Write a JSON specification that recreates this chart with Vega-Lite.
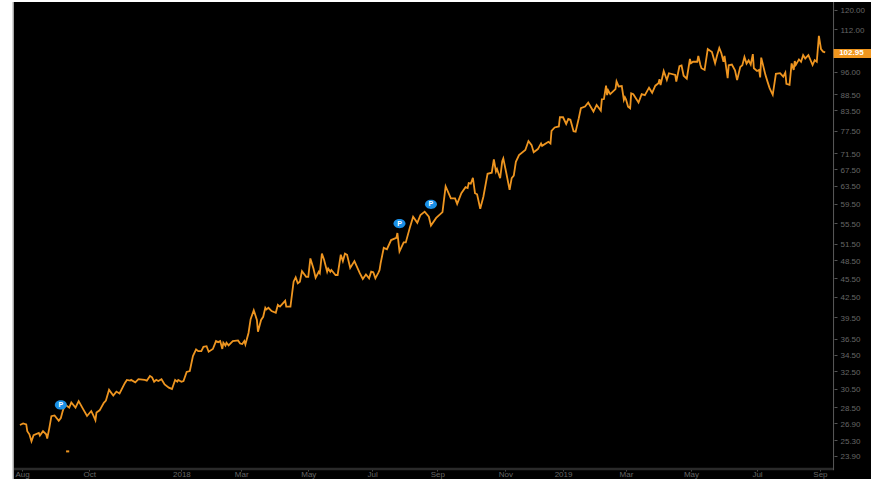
{"$schema":"https://vega.github.io/schema/vega-lite/v6.json","width":858,"height":477,"autosize":{"type":"none"},"padding":{"left":13,"top":2,"right":0,"bottom":0},"background":"white","view":{"fill":"#000000","stroke":null},
"data":{"values":[{"date":"2017-07-30","price":26.74},{"date":"2017-08-02","price":26.89},{"date":"2017-08-05","price":26.79},{"date":"2017-08-06","price":26.14},{"date":"2017-08-08","price":25.85},{"date":"2017-08-10","price":25.21},{"date":"2017-08-12","price":25.76},{"date":"2017-08-17","price":25.97},{"date":"2017-08-18","price":25.73},{"date":"2017-08-21","price":26.14},{"date":"2017-08-24","price":25.85},{"date":"2017-08-25","price":25.46},{"date":"2017-08-27","price":26.44},{"date":"2017-08-29","price":27.6},{"date":"2017-09-01","price":27.67},{"date":"2017-09-05","price":27.15},{"date":"2017-09-07","price":27.42},{"date":"2017-09-09","price":28.19},{"date":"2017-09-11","price":28.8},{"date":"2017-09-15","price":28.47},{"date":"2017-09-17","price":29.0},{"date":"2017-09-21","price":28.47},{"date":"2017-09-24","price":29.15},{"date":"2017-09-28","price":28.37},{"date":"2017-10-02","price":27.62},{"date":"2017-10-06","price":28.12},{"date":"2017-10-08","price":27.69},{"date":"2017-10-10","price":27.2},{"date":"2017-10-11","price":27.96},{"date":"2017-10-14","price":28.19},{"date":"2017-10-18","price":28.96},{"date":"2017-10-20","price":29.2},{"date":"2017-10-23","price":30.36},{"date":"2017-10-27","price":29.74},{"date":"2017-10-30","price":30.17},{"date":"2017-11-02","price":29.97},{"date":"2017-11-07","price":31.1},{"date":"2017-11-09","price":31.47},{"date":"2017-11-12","price":31.39},{"date":"2017-11-13","price":31.47},{"date":"2017-11-17","price":31.2},{"date":"2017-11-20","price":31.55},{"date":"2017-11-26","price":31.47},{"date":"2017-11-28","price":31.39},{"date":"2017-12-01","price":31.92},{"date":"2017-12-03","price":31.77},{"date":"2017-12-05","price":31.27},{"date":"2017-12-07","price":31.47},{"date":"2017-12-09","price":31.35},{"date":"2017-12-12","price":31.55},{"date":"2017-12-15","price":30.97},{"date":"2017-12-19","price":30.6},{"date":"2017-12-22","price":30.46},{"date":"2017-12-25","price":31.47},{"date":"2017-12-27","price":31.27},{"date":"2017-12-28","price":31.47},{"date":"2017-12-31","price":31.27},{"date":"2018-01-02","price":31.35},{"date":"2018-01-05","price":32.4},{"date":"2018-01-08","price":32.5},{"date":"2018-01-11","price":34.3},{"date":"2018-01-14","price":35.15},{"date":"2018-01-16","price":34.93},{"date":"2018-01-19","price":34.93},{"date":"2018-01-21","price":35.48},{"date":"2018-01-24","price":35.56},{"date":"2018-01-26","price":34.85},{"date":"2018-01-30","price":35.2},{"date":"2018-02-02","price":36.22},{"date":"2018-02-04","price":36.08},{"date":"2018-02-06","price":36.22},{"date":"2018-02-08","price":35.2},{"date":"2018-02-09","price":36.0},{"date":"2018-02-11","price":35.63},{"date":"2018-02-12","price":36.0},{"date":"2018-02-14","price":35.67},{"date":"2018-02-18","price":36.22},{"date":"2018-02-23","price":36.3},{"date":"2018-02-25","price":35.9},{"date":"2018-02-27","price":35.85},{"date":"2018-03-01","price":36.22},{"date":"2018-03-02","price":35.77},{"date":"2018-03-05","price":37.3},{"date":"2018-03-07","price":39.2},{"date":"2018-03-10","price":40.5},{"date":"2018-03-13","price":39.1},{"date":"2018-03-14","price":37.47},{"date":"2018-03-17","price":39.1},{"date":"2018-03-19","price":39.55},{"date":"2018-03-21","price":40.85},{"date":"2018-03-22","price":40.6},{"date":"2018-03-24","price":40.85},{"date":"2018-03-27","price":40.37},{"date":"2018-03-31","price":40.12},{"date":"2018-04-02","price":41.28},{"date":"2018-04-04","price":41.03},{"date":"2018-04-09","price":41.9},{"date":"2018-04-10","price":41.03},{"date":"2018-04-14","price":41.03},{"date":"2018-04-17","price":44.9},{"date":"2018-04-19","price":45.6},{"date":"2018-04-21","price":44.65},{"date":"2018-04-23","price":44.9},{"date":"2018-04-25","price":46.65},{"date":"2018-04-29","price":45.7},{"date":"2018-05-01","price":45.7},{"date":"2018-05-03","price":48.85},{"date":"2018-05-06","price":47.05},{"date":"2018-05-08","price":45.55},{"date":"2018-05-11","price":46.55},{"date":"2018-05-12","price":46.3},{"date":"2018-05-14","price":49.7},{"date":"2018-05-16","price":48.65},{"date":"2018-05-19","price":46.55},{"date":"2018-05-20","price":47.1},{"date":"2018-05-22","price":46.55},{"date":"2018-05-23","price":46.85},{"date":"2018-05-27","price":46.0},{"date":"2018-05-29","price":46.0},{"date":"2018-06-01","price":49.5},{"date":"2018-06-03","price":48.38},{"date":"2018-06-05","price":49.7},{"date":"2018-06-07","price":49.5},{"date":"2018-06-10","price":47.2},{"date":"2018-06-14","price":48.38},{"date":"2018-06-19","price":46.35},{"date":"2018-06-22","price":45.35},{"date":"2018-06-25","price":46.1},{"date":"2018-06-28","price":45.45},{"date":"2018-06-30","price":46.55},{"date":"2018-07-02","price":46.45},{"date":"2018-07-04","price":45.45},{"date":"2018-07-07","price":46.45},{"date":"2018-07-08","price":46.85},{"date":"2018-07-09","price":48.0},{"date":"2018-07-12","price":50.75},{"date":"2018-07-15","price":50.5},{"date":"2018-07-19","price":52.2},{"date":"2018-07-24","price":52.6},{"date":"2018-07-25","price":53.55},{"date":"2018-07-27","price":50.1},{"date":"2018-07-31","price":51.75},{"date":"2018-08-02","price":51.75},{"date":"2018-08-06","price":54.7},{"date":"2018-08-09","price":56.8},{"date":"2018-08-13","price":55.56},{"date":"2018-08-16","price":57.15},{"date":"2018-08-20","price":57.85},{"date":"2018-08-24","price":56.8},{"date":"2018-08-26","price":55.0},{"date":"2018-08-31","price":56.55},{"date":"2018-09-06","price":57.75},{"date":"2018-09-09","price":63.4},{"date":"2018-09-14","price":60.7},{"date":"2018-09-18","price":60.7},{"date":"2018-09-20","price":59.5},{"date":"2018-09-24","price":61.85},{"date":"2018-09-28","price":63.2},{"date":"2018-09-30","price":63.0},{"date":"2018-10-01","price":64.15},{"date":"2018-10-03","price":64.0},{"date":"2018-10-05","price":65.4},{"date":"2018-10-07","price":61.85},{"date":"2018-10-09","price":61.6},{"date":"2018-10-12","price":58.45},{"date":"2018-10-15","price":61.05},{"date":"2018-10-19","price":66.35},{"date":"2018-10-23","price":66.6},{"date":"2018-10-25","price":69.9},{"date":"2018-10-27","price":66.9},{"date":"2018-10-28","price":67.5},{"date":"2018-10-31","price":65.3},{"date":"2018-11-02","price":69.45},{"date":"2018-11-03","price":70.15},{"date":"2018-11-06","price":66.35},{"date":"2018-11-09","price":62.6},{"date":"2018-11-11","price":65.3},{"date":"2018-11-13","price":65.9},{"date":"2018-11-15","price":69.3},{"date":"2018-11-18","price":71.0},{"date":"2018-11-24","price":72.3},{"date":"2018-11-27","price":74.7},{"date":"2018-11-30","price":73.6},{"date":"2018-12-02","price":71.7},{"date":"2018-12-06","price":72.55},{"date":"2018-12-09","price":74.05},{"date":"2018-12-10","price":73.4},{"date":"2018-12-16","price":74.5},{"date":"2018-12-18","price":74.05},{"date":"2018-12-19","price":77.5},{"date":"2018-12-22","price":78.45},{"date":"2018-12-26","price":78.75},{"date":"2018-12-27","price":81.4},{"date":"2018-12-30","price":81.4},{"date":"2019-01-02","price":79.45},{"date":"2019-01-04","price":80.9},{"date":"2019-01-06","price":80.7},{"date":"2019-01-09","price":77.4},{"date":"2019-01-11","price":77.25},{"date":"2019-01-14","price":81.1},{"date":"2019-01-16","price":84.1},{"date":"2019-01-20","price":84.6},{"date":"2019-01-23","price":85.85},{"date":"2019-01-28","price":83.1},{"date":"2019-01-31","price":85.1},{"date":"2019-02-04","price":83.4},{"date":"2019-02-05","price":86.85},{"date":"2019-02-07","price":86.95},{"date":"2019-02-09","price":91.3},{"date":"2019-02-10","price":88.2},{"date":"2019-02-11","price":89.75},{"date":"2019-02-13","price":88.5},{"date":"2019-02-18","price":90.15},{"date":"2019-02-19","price":92.65},{"date":"2019-02-21","price":91.0},{"date":"2019-02-24","price":91.15},{"date":"2019-02-26","price":86.65},{"date":"2019-02-27","price":87.5},{"date":"2019-02-28","price":86.85},{"date":"2019-03-02","price":84.6},{"date":"2019-03-04","price":84.1},{"date":"2019-03-05","price":88.75},{"date":"2019-03-07","price":88.5},{"date":"2019-03-12","price":85.85},{"date":"2019-03-15","price":88.5},{"date":"2019-03-18","price":88.2},{"date":"2019-03-22","price":90.6},{"date":"2019-03-25","price":88.95},{"date":"2019-03-28","price":91.25},{"date":"2019-03-31","price":92.05},{"date":"2019-04-01","price":93.4},{"date":"2019-04-02","price":91.45},{"date":"2019-04-05","price":96.25},{"date":"2019-04-08","price":93.15},{"date":"2019-04-10","price":95.45},{"date":"2019-04-16","price":94.85},{"date":"2019-04-17","price":92.6},{"date":"2019-04-20","price":97.9},{"date":"2019-04-22","price":98.15},{"date":"2019-04-24","price":94.6},{"date":"2019-04-27","price":93.6},{"date":"2019-04-30","price":100.5},{"date":"2019-05-01","price":98.95},{"date":"2019-05-03","price":99.5},{"date":"2019-05-07","price":99.5},{"date":"2019-05-08","price":101.6},{"date":"2019-05-10","price":98.35},{"date":"2019-05-11","price":97.2},{"date":"2019-05-14","price":96.6},{"date":"2019-05-17","price":104.2},{"date":"2019-05-21","price":103.05},{"date":"2019-05-24","price":99.0},{"date":"2019-05-26","price":102.0},{"date":"2019-05-28","price":104.6},{"date":"2019-05-30","price":102.6},{"date":"2019-06-01","price":99.5},{"date":"2019-06-02","price":101.65},{"date":"2019-06-05","price":93.8},{"date":"2019-06-06","price":98.25},{"date":"2019-06-09","price":98.5},{"date":"2019-06-12","price":96.45},{"date":"2019-06-14","price":93.1},{"date":"2019-06-17","price":97.65},{"date":"2019-06-19","price":98.25},{"date":"2019-06-21","price":101.2},{"date":"2019-06-23","price":98.85},{"date":"2019-06-25","price":100.0},{"date":"2019-06-27","price":98.5},{"date":"2019-06-29","price":102.3},{"date":"2019-06-30","price":97.2},{"date":"2019-07-03","price":96.25},{"date":"2019-07-05","price":96.6},{"date":"2019-07-06","price":94.0},{"date":"2019-07-07","price":101.0},{"date":"2019-07-08","price":99.45},{"date":"2019-07-11","price":94.9},{"date":"2019-07-13","price":92.6},{"date":"2019-07-15","price":90.45},{"date":"2019-07-18","price":88.3},{"date":"2019-07-21","price":95.25},{"date":"2019-07-25","price":95.5},{"date":"2019-07-28","price":94.3},{"date":"2019-07-30","price":95.7},{"date":"2019-07-31","price":91.85},{"date":"2019-08-03","price":91.55},{"date":"2019-08-05","price":98.9},{"date":"2019-08-07","price":96.6},{"date":"2019-08-08","price":99.75},{"date":"2019-08-09","price":98.35},{"date":"2019-08-12","price":100.35},{"date":"2019-08-14","price":99.5},{"date":"2019-08-16","price":101.9},{"date":"2019-08-18","price":100.7},{"date":"2019-08-21","price":101.9},{"date":"2019-08-25","price":98.35},{"date":"2019-08-27","price":100.1},{"date":"2019-08-29","price":99.5},{"date":"2019-08-31","price":109.3},{"date":"2019-09-02","price":104.2},{"date":"2019-09-04","price":103.2},{"date":"2019-09-06","price":102.95}]},
"layer":[
{"mark":{"type":"line","stroke":"#ee9520","strokeWidth":1.8,"clip":true},
"encoding":{
"x":{"field":"date","type":"temporal","scale":{"domain":[{"year":2017,"month":7,"date":23,"hours":9,"utc":true},{"year":2019,"month":10,"date":19,"hours":17,"utc":true}],"nice":false},
"axis":{"title":null,"orient":"bottom","offset":-10,"domain":false,"grid":false,"tickColor":"#555555","tickSize":2,"labelColor":"#666666","labelFont":"Liberation Sans","labelFontSize":8,"labelPadding":-1,"labelFlush":false,"labelOverlap":false,"labelBound":false,
"values":[{"year":2017,"month":8,"date":1,"utc":true},{"year":2017,"month":10,"date":4,"utc":true},{"year":2017,"month":12,"date":31,"utc":true},{"year":2018,"month":2,"date":26,"utc":true},{"year":2018,"month":5,"date":1,"utc":true},{"year":2018,"month":7,"date":1,"utc":true},{"year":2018,"month":9,"date":1,"utc":true},{"year":2018,"month":11,"date":5,"utc":true},{"year":2018,"month":12,"date":30,"utc":true},{"year":2019,"month":2,"date":28,"utc":true},{"year":2019,"month":5,"date":1,"utc":true},{"year":2019,"month":7,"date":3,"utc":true},{"year":2019,"month":9,"date":1,"utc":true}],
"labelExpr":"utcFormat(datum.value+518400000,'%m')=='01' ? utcFormat(datum.value+518400000,'%Y') : utcFormat(datum.value+518400000,'%b')"}},
"y":{"field":"price","type":"quantitative","scale":{"type":"log","domain":[21.99,123.52],"nice":false,"zero":false},
"axis":{"title":null,"orient":"right","offset":-37,"domain":false,"grid":false,"tickColor":"#555555","tickSize":3,"labelColor":"#666666","labelFont":"Liberation Sans","labelFontSize":8,"labelPadding":3,"labelOffset":1,"labelOverlap":false,"labelBound":false,"labelFlush":false,"format":".2f",
"values":[23.9,25.3,26.9,28.5,30.5,32.5,34.5,36.5,39.5,42.5,45.5,48.5,51.5,55.5,59.5,63.5,67.5,71.5,77.5,83.5,88.5,96,112,120]}}}},
{"data":{"values":[{"d":"2017-09-12","p":24.3},{"d":"2017-09-15","p":24.3}]},
"mark":{"type":"line","stroke":"#ee9520","strokeWidth":2},
"encoding":{"x":{"field":"d","type":"temporal"},"y":{"field":"p","type":"quantitative"}}},
{"data":{"values":[{"d":"2017-09-07","p":28.75,"t":"P"},{"d":"2018-07-27","p":55.4,"t":"P"},{"d":"2018-08-26","p":59.4,"t":"P"}]},
"mark":{"type":"point","filled":true,"fill":"#1a8fe6","opacity":1,"size":144,"shape":"M-1,0 A1,0.78 0 1 1 1,0 A1,0.78 0 1 1 -1,0 Z"},
"encoding":{"x":{"field":"d","type":"temporal"},"y":{"field":"p","type":"quantitative"}}},
{"data":{"values":[{"d":"2017-09-07","p":28.75,"t":"P"},{"d":"2018-07-27","p":55.4,"t":"P"},{"d":"2018-08-26","p":59.4,"t":"P"}]},
"mark":{"type":"text","color":"white","font":"Liberation Sans","fontWeight":"bold","fontSize":7,"baseline":"middle","align":"center"},
"encoding":{"x":{"field":"d","type":"temporal"},"y":{"field":"p","type":"quantitative"},"text":{"field":"t"}}},
{"data":{"values":[{"a":1}]},"mark":{"type":"rule","stroke":"#2a2a2a","strokeWidth":2.5},
"encoding":{"x":{"datum":{"year":2017,"month":7,"date":24,"utc":true},"type":"temporal"},"x2":{"datum":{"year":2019,"month":9,"date":14,"utc":true}},"y":{"datum":22.79,"type":"quantitative"}}},
{"data":{"values":[{"a":1}]},"mark":{"type":"rule","stroke":"#5a5a5a","strokeWidth":1},
"encoding":{"x":{"datum":{"year":2019,"month":9,"date":14,"utc":true},"type":"temporal"},"y":{"datum":123.52,"type":"quantitative"},"y2":{"datum":22.7}}},
{"data":{"values":[{"a":1}]},"mark":{"type":"rule","stroke":"#bbbbbb","strokeWidth":1.5},
"encoding":{"x":{"datum":{"year":2017,"month":7,"date":23,"hours":12,"utc":true},"type":"temporal"},"y":{"datum":123.52,"type":"quantitative"},"y2":{"datum":21.99}}},
{"data":{"values":[{"a":1}]},"mark":{"type":"rect","fill":"#f0961e"},
"encoding":{"x":{"datum":{"year":2019,"month":9,"date":14,"utc":true},"type":"temporal"},"x2":{"datum":{"year":2019,"month":10,"date":19,"hours":17,"utc":true}},"y":{"datum":104.2,"type":"quantitative"},"y2":{"datum":100.9}}},
{"data":{"values":[{"v":102.6,"l":"102.95"}]},"mark":{"type":"text","color":"white","font":"Liberation Sans","fontWeight":"bold","fontSize":8,"baseline":"middle","align":"center"},
"encoding":{"x":{"datum":{"year":2019,"month":10,"date":1,"utc":true},"type":"temporal"},"y":{"field":"v","type":"quantitative"},"text":{"field":"l"}}}
]}
